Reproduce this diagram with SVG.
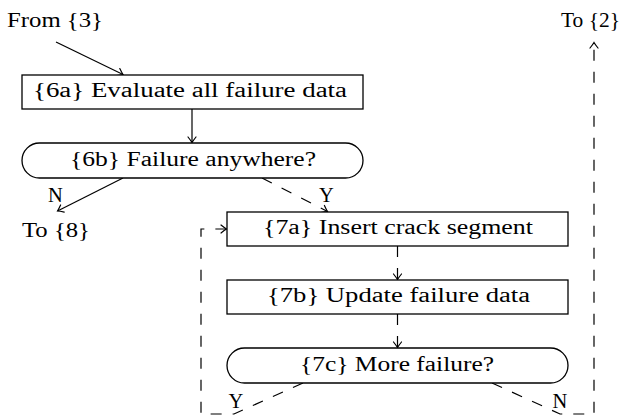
<svg xmlns="http://www.w3.org/2000/svg" width="630" height="418" viewBox="0 0 630 418">
  <style>
    .box { fill: #fff; stroke: #000; stroke-width: 1.3; }
    .lbl { font-family: "Liberation Serif", "Times New Roman", serif; font-size: 20.5px; fill: #000; }
    .mid { text-anchor: middle; }
    .edge { fill: none; stroke: #000; stroke-width: 1.2; }
    .dash { stroke-dasharray: 11 11; }
  </style>
  <defs>
    <marker id="to" markerUnits="userSpaceOnUse" markerWidth="10" markerHeight="10" refX="0" refY="0" orient="auto" overflow="visible">
      <path d="M-5.5,-4 Q-2,-1.2 0,0 Q-2,1.2 -5.5,4" fill="none" stroke="#000" stroke-width="1.2" stroke-linecap="round"/>
    </marker>
  </defs>

  <!-- connectors -->
  <g id="connectors">
    <line class="edge" x1="56" y1="42" x2="123" y2="74.5" marker-end="url(#to)"/>
    <line class="edge" x1="192" y1="109" x2="192" y2="142.5" marker-end="url(#to)"/>
    <line class="edge" x1="123" y1="178" x2="57.5" y2="211" marker-end="url(#to)"/>
    <line class="edge dash" x1="262" y1="178" x2="327.5" y2="211.5" marker-end="url(#to)"/>
    <line class="edge dash" x1="397.5" y1="246" x2="397.5" y2="279.5" marker-end="url(#to)"/>
    <line class="edge dash" x1="397.5" y1="314" x2="397.5" y2="347.5" marker-end="url(#to)"/>
    <!-- Y loop back to 7a -->
    <polyline class="edge dash" points="303,383 234,414 201,414 201,229 226.5,229" marker-end="url(#to)"/>
    <!-- N exit to step 2 -->
    <polyline class="edge dash" points="492,383 560,414 594,414 594,42.5" marker-end="url(#to)"/>
  </g>

  <g id="from3">
    <text class="lbl mid" x="55" y="27" textLength="96" lengthAdjust="spacingAndGlyphs">From {3}</text>
  </g>

  <g id="n6a">
    <rect class="box" x="22" y="75" width="341" height="34"/>
    <text class="lbl mid" x="190" y="97" textLength="314" lengthAdjust="spacingAndGlyphs">{6a} Evaluate all failure data</text>
  </g>

  <g id="n6b">
    <rect class="box" x="22" y="143" width="341" height="35" rx="17.5" ry="17.5"/>
    <text class="lbl mid" x="193" y="165.5" textLength="246" lengthAdjust="spacingAndGlyphs">{6b} Failure anywhere?</text>
  </g>

  <g id="label-6b-n">
    <text class="lbl mid" x="55.5" y="202">N</text>
  </g>
  <g id="label-6b-y">
    <text class="lbl mid" x="326.5" y="202">Y</text>
  </g>

  <g id="to8">
    <text class="lbl" x="22" y="237" textLength="68" lengthAdjust="spacingAndGlyphs">To {8}</text>
  </g>

  <g id="n7a">
    <rect class="box" x="227" y="212" width="341" height="34"/>
    <text class="lbl mid" x="398" y="234" textLength="270" lengthAdjust="spacingAndGlyphs">{7a} Insert crack segment</text>
  </g>

  <g id="n7b">
    <rect class="box" x="227" y="280" width="341" height="34"/>
    <text class="lbl mid" x="398.5" y="302" textLength="263" lengthAdjust="spacingAndGlyphs">{7b} Update failure data</text>
  </g>

  <g id="n7c">
    <rect class="box" x="227" y="348" width="341" height="35" rx="17.5" ry="17.5"/>
    <text class="lbl mid" x="397" y="371" textLength="194" lengthAdjust="spacingAndGlyphs">{7c} More failure?</text>
  </g>

  <g id="label-7c-y">
    <text class="lbl mid" x="236" y="408">Y</text>
  </g>
  <g id="label-7c-n">
    <text class="lbl mid" x="560" y="408">N</text>
  </g>

  <g id="to2">
    <text class="lbl" x="561" y="27" textLength="59" lengthAdjust="spacingAndGlyphs">To {2}</text>
  </g>
</svg>
